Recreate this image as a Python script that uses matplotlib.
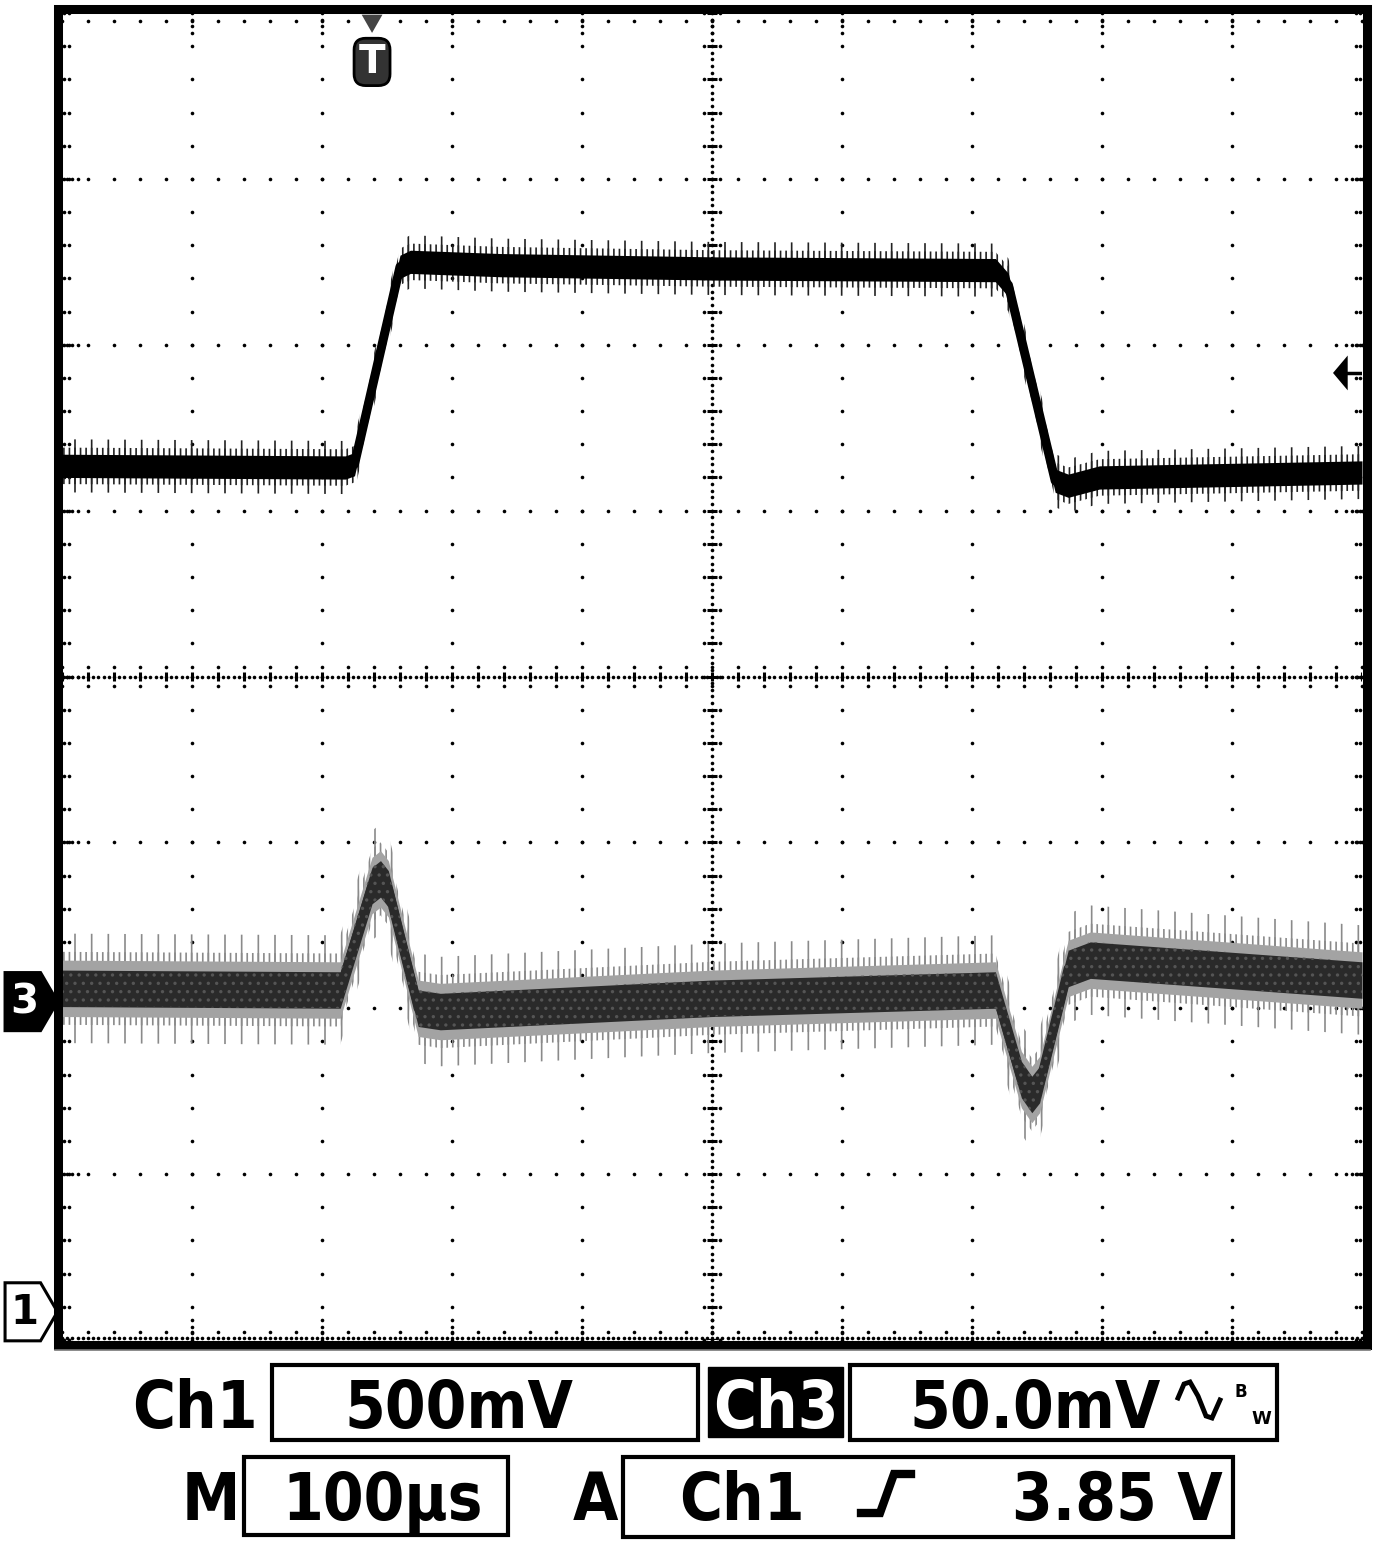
# -*- coding: utf-8 -*-
# scope.py
"""
oscilloscope screen capture, Ch1 pulse + Ch3 response
"""
import numpy as np
import matplotlib.pyplot as plt
from matplotlib.patches import Polygon, Rectangle
from matplotlib.lines import Line2D

## Ch1 trace, time / level in divisions
ch1_t = [0.0, 2.18, 2.25, 2.60, 2.68, 3.37, 5.0, 7.18, 7.28, 7.64, 7.74, 7.98, 10.0]
ch1_v = [5.27, 5.26, 5.28, 6.47, 6.50, 6.48, 6.46, 6.45, 6.36, 5.18, 5.15, 5.20, 5.23]

## Ch3 trace, time / level in divisions
ch3_t = [0.0, 2.14, 2.385, 2.45, 2.51, 2.74, 2.91, 5.0, 7.18, 7.38, 7.46, 7.52, 7.74, 7.91, 10.0]
ch3_v = [2.12, 2.11, 2.74, 2.78, 2.72, 2.00, 1.98, 2.06, 2.11, 1.57, 1.48, 1.54, 2.24, 2.29, 2.17]

## markers (divisions)
ch1_ground = 0.17
ch3_ground = 2.04
trig_pos = 2.385
trig_level = 5.83

## readout
ch1_label, ch1_scale = "Ch1", "500mV"
ch3_label, ch3_scale = "Ch3", "50.0mV"
time_label, time_scale = "M", "100µs"
trig_label, trig_src, trig_value = "A", "Ch1", "3.85 V"

W, H = 1374, 1545


def fxy(px, py):
    """
    pixel -> figure fraction
    """
    return px / W, 1 - py / H


def fig_box(fig, x0, y0, x1, y1, fc='none', lw=3.0):
    """
    fig_box
    """
    (a, b), (c, d) = fxy(x0, y1), fxy(x1, y0)
    r = Rectangle((a, b), c - a, d - b, transform=fig.transFigure,
                  fc=fc, ec='black', lw=lw)
    fig.add_artist(r)


def fig_line(fig, pts, lw, color='black'):
    """
    fig_line
    """
    xy = np.array([fxy(*p) for p in pts])
    fig.add_artist(Line2D(xy[:, 0], xy[:, 1], transform=fig.transFigure,
                          color=color, lw=lw, solid_joinstyle='miter'))


def draw_graticule(ax):
    """
    draw_graticule
    """
    dot = dict(marker='o', ms=2.6, mew=0, color='black', ls='none',
               clip_on=False, zorder=1)
    minor_x = np.arange(0, 10.001, 0.2)
    minor_y = np.arange(0, 8.001, 0.2)
    fine_x = np.arange(0, 10.001, 0.04)
    fine_y = np.arange(0, 8.001, 0.04)

    ## major lines
    for gx in range(1, 10):
        if gx != 5:
            ax.plot(np.full_like(minor_y, gx), minor_y, **dot)
    for gy in range(1, 8):
        if gy != 4:
            ax.plot(minor_x, np.full_like(minor_x, gy), **dot)

    ## centre cross
    ax.plot(np.full_like(fine_y, 5), fine_y, **dot)
    ax.plot(fine_x, np.full_like(fine_x, 4), **dot)
    for s in (-1, 1):
        ax.plot(minor_x, np.full_like(minor_x, 4 + s * 0.06), **dot)
        ax.plot(np.full_like(minor_y, 5 + s * 0.065), minor_y, **dot)
    ax.vlines(minor_x, 4 - 0.03, 4 + 0.03, color='black', lw=2.2, zorder=1)
    ax.hlines(minor_y, 5 - 0.035, 5 + 0.035, color='black', lw=2.2, zorder=1)

    ## border ticks
    ax.plot(fine_x, np.full_like(fine_x, 0.01), **dot)
    ax.plot(minor_x, np.full_like(minor_x, 0.05), **dot)
    ax.plot(minor_x, np.full_like(minor_x, 7.95), **dot)
    ax.plot(np.full_like(minor_y, 0.015), minor_y, **dot)
    ax.plot(np.full_like(minor_y, 0.05), minor_y, **dot)
    ax.plot(np.full_like(minor_y, 9.985), minor_y, **dot)
    ax.plot(np.full_like(minor_y, 9.95), minor_y, **dot)
    run = np.array([0.04, 0.08, 0.12])
    for gx in range(1, 10):
        ax.plot(np.full(3, gx), run, **dot)
        ax.plot(np.full(3, gx), 8 - run, **dot)
    for gy in range(1, 8):
        ax.plot(run, np.full(3, gy), **dot)
        ax.plot(10 - run, np.full(3, gy), **dot)


def draw_trace(ax, t, v, core, mid, outer, color, halo, shade=None,
               speckle=None):
    """
    draw_trace, persistence-like band around the trace
    """
    t, v = np.asarray(t), np.asarray(v)
    ax.fill_between(t, v - outer, v + outer, facecolor='none', edgecolor=halo,
                    hatch='|', lw=0, zorder=3)
    ax.fill_between(t, v - mid, v + mid, facecolor='none', edgecolor=halo,
                    hatch='|||', lw=0, zorder=3)
    if shade is not None:
        ax.fill_between(t, v - shade[0], v + shade[0], color=shade[1], lw=0,
                        zorder=3)
    ax.fill_between(t, v - core, v + core, color=color, lw=0, zorder=4)
    ax.plot(t, v, color=color, lw=6.5, solid_joinstyle='round', zorder=4)
    if speckle is not None:
        ax.fill_between(t, v - core, v + core, facecolor='none',
                        edgecolor=speckle, hatch='..', lw=0, zorder=5)


def draw_markers(ax):
    """
    draw_markers
    """
    ## trigger position
    tri = Polygon([(trig_pos - 0.08, 7.99), (trig_pos + 0.08, 7.99),
                   (trig_pos, 7.88)], closed=True, fc='#444444', ec='none',
                  clip_on=False, zorder=6)
    ax.add_patch(tri)
    ax.text(trig_pos, 7.705, 'T', color='white', weight='bold', size=28,
            ha='center', va='center', zorder=6,
            bbox=dict(boxstyle='round,pad=0.12,rounding_size=0.3',
                      fc='#333333', ec='black', lw=2))

    ## channel grounds
    def tag(level, fc, tc, label):
        pts = [(-0.438, level + 0.175), (-0.165, level + 0.175),
               (-0.035, level), (-0.165, level - 0.175),
               (-0.438, level - 0.175)]
        ax.add_patch(Polygon(pts, closed=True, fc=fc, ec='black', lw=2.2,
                             clip_on=False, zorder=6))
        ax.text(-0.29, level - 0.005, label, color=tc, weight='bold',
                size=29, ha='center', va='center', zorder=7)

    tag(ch3_ground, 'black', 'white', '3')
    tag(ch1_ground, 'white', 'black', '1')

    ## trigger level
    ax.add_patch(Polygon([(9.777, trig_level), (9.89, trig_level + 0.105),
                          (9.89, trig_level - 0.105)], closed=True,
                         fc='black', ec='none', zorder=6))
    ax.hlines(trig_level, 9.88, 10.0, color='black', lw=2.5, zorder=6)


def draw_readout(fig):
    """
    draw_readout
    """
    txt = dict(weight='bold', size=47, fontstretch='condensed',
               va='baseline', ha='center')

    ## row 1
    fig.text(*fxy(195, 1428), ch1_label, **txt)
    fig_box(fig, 272, 1365, 698, 1440)
    fig.text(*fxy(459, 1428), ch1_scale, **txt)
    fig_box(fig, 708, 1367, 843, 1437, fc='black', lw=1)
    fig.text(*fxy(776, 1428), ch3_label, color='white', **txt)
    fig_box(fig, 850, 1365, 1277, 1440)
    fig.text(*fxy(1035, 1428), ch3_scale, **txt)
    fig_line(fig, [(1178, 1398), (1184, 1384), (1190, 1382), (1198, 1396),
                   (1206, 1416), (1212, 1418), (1220, 1400)], lw=3.5)
    fig.text(*fxy(1241, 1397), 'B', weight='bold', size=12, ha='center',
             va='baseline')
    fig.text(*fxy(1261, 1424), 'W', weight='bold', size=13, ha='center',
             va='baseline')

    ## row 2
    fig.text(*fxy(211, 1520), time_label, **txt)
    fig_box(fig, 244, 1457, 508, 1535)
    fig.text(*fxy(383, 1520), time_scale, **txt)
    fig.text(*fxy(595, 1520), trig_label, **txt)
    fig_box(fig, 623, 1457, 1233, 1537)
    fig.text(*fxy(742, 1520), trig_src, **txt)
    fig_line(fig, [(861, 1513), (880, 1513), (894, 1474), (911, 1474)], lw=6)
    fig.text(*fxy(1117, 1520), trig_value, **txt)


def plot_scope(filename):
    """
    plot_scope
    """
    plt.rcParams['font.family'] = ['DejaVu Sans']
    fig = plt.figure(figsize=(W / 100, H / 100), dpi=100)
    fig.patch.set_facecolor('white')
    ax = fig.add_axes([62 / W, 1 - 1340 / H, 1300 / W, 1327 / H])
    ax.set_xlim(0, 10)
    ax.set_ylim(0, 8)
    ax.axis('off')

    plt.rcParams['hatch.linewidth'] = 1.2
    draw_graticule(ax)
    draw_trace(ax, ch1_t, ch1_v, 0.07, 0.11, 0.16, 'black', '#222222')
    draw_trace(ax, ch3_t, ch3_v, 0.11, 0.22, 0.33, '#2a2a2a', '#8a8a8a',
               shade=(0.17, '#a3a3a3'), speckle='#555555')
    draw_markers(ax)

    ## screen frame
    (a, b), (c, d) = fxy(57.5, 1344.5), fxy(1366.5, 8.5)
    fig.add_artist(Rectangle((a, b), c - a, d - b, transform=fig.transFigure,
                             fill=False, ec='black', lw=6.5))
    fig_line(fig, [(55, 1350), (1370, 1350)], lw=1.2, color='#777777')

    draw_readout(fig)
    fig.savefig(filename, dpi=100)
    plt.close(fig)
    return True


if __name__ == "__main__":
    plot_scope("out.png")
